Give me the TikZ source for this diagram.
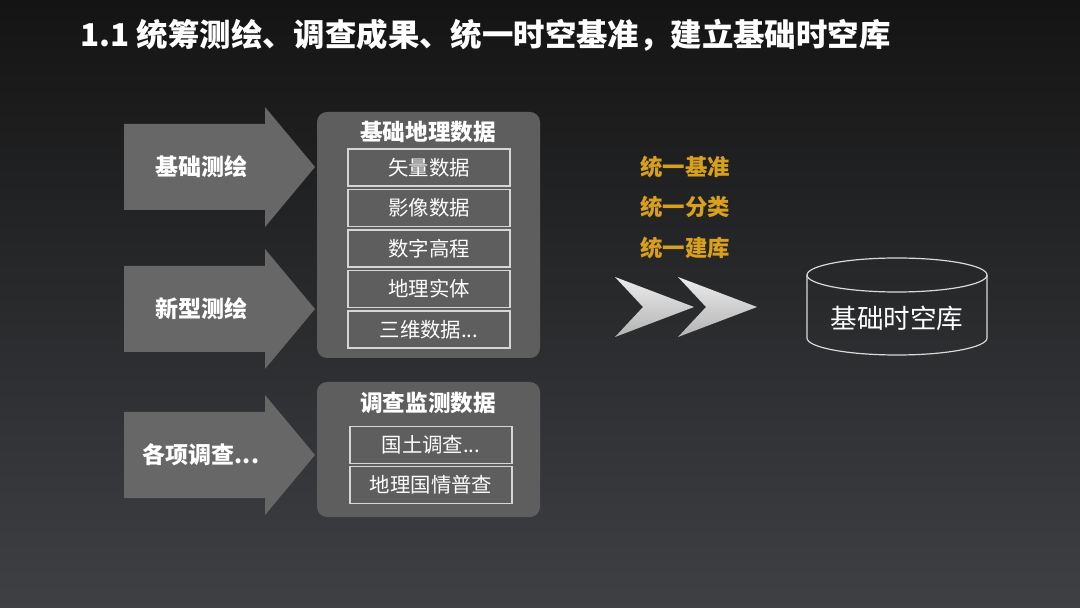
\documentclass[tikz,border=0pt]{standalone}
\usepackage{fontspec}
\setmainfont{Noto Sans CJK SC}
\definecolor{bgtop}{HTML}{141414}
\definecolor{bgmid}{HTML}{26282B}
\definecolor{bgbot}{HTML}{3E4044}
\definecolor{arrowgray}{HTML}{676767}
\definecolor{panelgray}{HTML}{5E5E5E}
\definecolor{boxline}{HTML}{D6D6D6}
\definecolor{gold}{HTML}{D9A01E}
\def\more{...}
\begin{document}
\begin{tikzpicture}[x=0.5pt,y=-0.5pt]
\tikzstyle{bigarrow} = [fill=arrowgray]
\tikzstyle{armlabel} = [white,font=\bfseries\fontsize{11.5}{13}\selectfont,inner sep=1pt]
\tikzstyle{panel} = [fill=panelgray,rounded corners=5pt]
\tikzstyle{panelhead} = [white,font=\bfseries\fontsize{11.3}{13}\selectfont,inner sep=1pt]
\tikzstyle{itembox} = [draw=boxline,line width=0.6pt,text=white,font=\fontsize{10.2}{12}\selectfont,minimum width=81pt,minimum height=18.5pt,inner sep=0pt]
\tikzstyle{goldone} = [gold,font=\bfseries\fontsize{11.2}{13}\selectfont,inner sep=1pt]
\tikzstyle{chevron} = [top color=gray!15,bottom color=gray!60,draw=none]
\tikzstyle{dbline} = [white!85!black,line width=0.6pt]
  %background
  \shade[top color=bgtop,middle color=bgmid,bottom color=bgbot] (0,0) rectangle (1080,608);
  \useasboundingbox (0,0) rectangle (1080,608);
  %title
  \node[anchor=west,white,font=\bfseries\fontsize{15.7}{19}\selectfont,inner sep=0pt] (title) at (80,35) {1.1 统筹测绘、调查成果、统一时空基准，建立基础时空库};
  %big arrows
  \foreach \cy in {167,309,455}
    \fill[bigarrow] (124,\cy-43) -- (265,\cy-43) -- (265,\cy-60) -- (315,\cy)
      -- (265,\cy+60) -- (265,\cy+43) -- (124,\cy+43) -- cycle;
  \node[armlabel] (basic) at (201,167) {基础测绘};
  \node[armlabel] (newtype) at (201,309) {新型测绘};
  \node[armlabel] (survey) at (201,455) {各项调查\more};
  %panels
  \fill[panel] (317,112) rectangle (540,358);
  \fill[panel] (317,382) rectangle (540,517);
  \node[panelhead] (geohead) at (428,132) {基础地理数据};
  \node[panelhead] (investhead) at (428,403) {调查监测数据};
    %items
    \foreach \cy/\txt [count=\i] in {167.5/矢量数据,208/影像数据,248.5/数字高程,289/地理实体}
      \node[itembox] (geo\i) at (429,\cy) {\txt};
    \node[itembox] (geo5) at (429,329.5) {三维数据\more};
    \node[itembox] (invest1) at (431,445) {国土调查\more};
    \node[itembox] (invest2) at (431,485) {地理国情普查};
  %unify
  \node[goldone] (datum) at (685,167) {统一基准};
  \node[goldone] (classify) at (685,207) {统一分类};
  \node[goldone] (build) at (685,248) {统一建库};
  %chevrons
  \foreach \dx in {0,63}
    \shade[chevron] (615+\dx,277) -- (694+\dx,307) -- (615+\dx,337) -- (643+\dx,307) -- cycle;
  %database
  \draw[dbline] (807,275) -- (807,338) arc[start angle=180,end angle=0,x radius=90,y radius=17] -- (987,275);
  \draw[dbline] (897,275) ellipse [x radius=90,y radius=17];
  \node[white,font=\fontsize{13.3}{15}\selectfont] (stdb) at (897,318) {基础时空库};
\end{tikzpicture}
\end{document}
